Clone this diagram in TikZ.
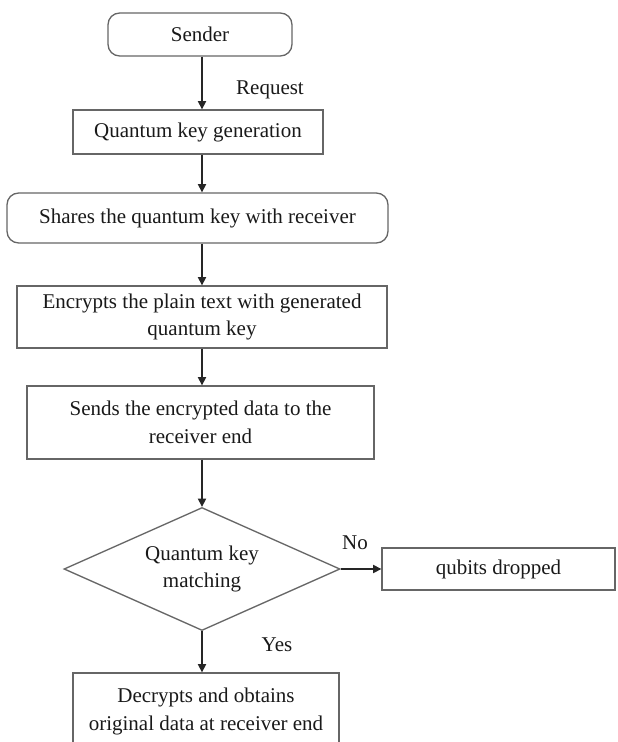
\documentclass[tikz,border=0pt]{standalone}
\usepackage{fontspec}
\setmainfont{Liberation Serif}
\usetikzlibrary{shapes.geometric,arrows.meta}
\begin{document}
\begin{tikzpicture}[x=0.6pt,y=-0.6pt,
  font=\fontsize{12.6}{16.5}\selectfont,
  box/.style={draw=black!60,line width=0.8pt,rectangle,inner sep=0pt,align=center,text=black!90},
  rbox/.style={box,rounded corners=7pt},
  dec/.style={draw=black!60,line width=0.8pt,diamond,aspect=2.24,inner sep=0pt,align=center,text=black!90,minimum width=165.6pt,minimum height=73.8pt},
  flow/.style={draw=black!85,line width=0.8pt,-{Triangle[length=5pt,width=5pt]}},
  lbl/.style={text=black!90}]
\useasboundingbox (0,0) rectangle (617,742);
\clip (0,0) rectangle (617,742);
\coordinate (axis) at (202,0);
\node[rbox,minimum width=110.4pt,minimum height=25.8pt] (sender) at (200,34.5) {Sender};
\node[box,minimum width=150pt,minimum height=26.4pt] (qkg) at (198,132) {Quantum key generation};
\node[rbox,minimum width=228.6pt,minimum height=30pt] (share) at (197.5,218) {Shares the quantum key with receiver};
\node[box,minimum width=222pt,minimum height=37.2pt] (enc) at (202,317) {Encrypts the plain text with generated\\quantum key};
\node[box,minimum width=208.2pt,minimum height=43.8pt] (send) at (200.5,422.5) {Sends the encrypted data to the\\receiver end};
\node[dec] (match) at (202,569) {Quantum key\\matching};
\node[box,minimum width=139.8pt,minimum height=25.2pt] (drop) at (498.5,569) {qubits dropped};
\node[box,minimum width=159.6pt,minimum height=46.2pt] (decr) at (206,711.5) {Decrypts and obtains\\original data at receiver end};
\node[lbl] (req) at (270,90) {Request};
\node[lbl] (no) at (355,543) {No};
\node[lbl] (yes) at (277,645) {Yes};
\draw[flow] (sender.south -| axis) -- (qkg.north -| axis);
\draw[flow] (qkg.south -| axis) -- (share.north -| axis);
\draw[flow] (share.south -| axis) -- (enc.north -| axis);
\draw[flow] (enc.south -| axis) -- (send.north -| axis);
\draw[flow] (send.south -| axis) -- (match.north);
\draw[flow] (match.east) -- (drop.west);
\draw[flow] (match.south) -- (decr.north -| axis);
\end{tikzpicture}
\end{document}
